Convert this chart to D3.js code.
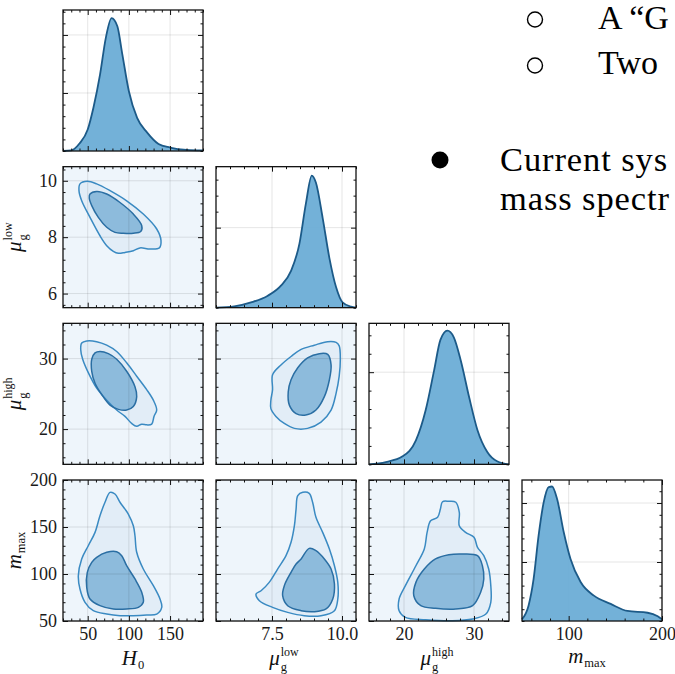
<!DOCTYPE html>
<html><head><meta charset="utf-8">
<script src="https://cdn.jsdelivr.net/npm/d3@7"></script>
<style>body{margin:0;background:#fff;} svg{display:block;}</style>
</head><body><svg id="c" width="675" height="674"></svg>
<script>
// ---------------- data ----------------
const H0Range = [20, 190];
const muLowRange = [5.5, 10.5];
const muHighRange = [15, 35];
const mMaxRange = [50, 200];

const H0Ticks = [50, 100, 150];
const muLowXTicks = [7.5, 10.0];
const muLowYTicks = [6, 8, 10];
const muHighTicks = [20, 30];
const mMaxXTicks = [100, 200];
const mMaxYTicks = [50, 100, 150, 200];

// 1D marginal densities
const H0Grid = [20,30,40,50,57,65,72,79,86,92,100,110,122,136,150,170,190];
const H0Density = [0,0.0001,0.0013,0.0037,0.0075,0.0132,0.0195,0.0229,0.0215,0.0167,0.0103,0.0057,0.0032,0.0012,0.0006,0.0002,0.0001];
const muLowGrid = [5.5,6.15,6.75,7.35,7.82,8.18,8.48,8.71,8.92,9.07,9.31,9.55,9.79,10.02,10.32,10.5];
const muLowDensity = [0,0.008,0.033,0.075,0.138,0.23,0.40,0.65,0.825,0.78,0.56,0.31,0.127,0.033,0.006,0];
const muHighGrid = [15,17.4,19.8,21.7,23.1,24.3,25.2,26.2,27.1,28.1,29.3,30.5,31.9,33.3,35];
const muHighDensity = [0,0.0025,0.0087,0.026,0.059,0.102,0.135,0.145,0.138,0.113,0.073,0.037,0.0134,0.0033,0];
const mMaxGrid = [50,57,62.4,67.8,73.2,78.6,82.2,87.6,94.8,102,112.8,127,145,163,184.6,195.4,200];
const mMaxDensity = [0.0003,0.0026,0.0071,0.0145,0.0201,0.0227,0.0228,0.0207,0.015,0.0105,0.0066,0.0043,0.0029,0.0017,0.0014,0.0008,0.0003];

const densityMax = [0.0243, 0.881, 0.153, 0.0239];
const densityTicks = [[0.01, 0.02], [0.5], [0.1], [0.01, 0.02]];
const densityMinorStep = [0.002, 0.1, 0.02, 0.002];

// 2D credible contours [x, y]
const H0_muLow_outer = [[40.6,9.89],[49.5,9.98],[60.9,9.89],[77.1,9.65],[97.3,9.29],[117.5,8.82],[133.8,8.29],[139,7.88],[137,7.62],[125.6,7.58],[113.5,7.62],[105.4,7.52],[95.3,7.46],[87.2,7.43],[81.1,7.50],[73.1,7.70],[64.9,8.05],[52.8,8.70],[42.7,9.29],[39.4,9.65]];
const H0_muLow_inner = [[52.8,9.53],[60.9,9.62],[73.1,9.53],[89.2,9.23],[105.4,8.82],[115.6,8.41],[114.4,8.20],[105.4,8.14],[93.2,8.14],[83.1,8.17],[73.1,8.35],[62.9,8.70],[54.9,9.12],[51.9,9.39]];
const H0_muHigh_outer = [[42.7,32.2],[48.8,32.5],[60.9,32.4],[73.1,31.9],[85.2,31.0],[97.3,29.4],[109.5,27.5],[121.6,25.6],[129.7,24.1],[133.8,22.7],[130.5,21.8],[127.7,20.7],[121.6,20.6],[115.6,20.7],[109.5,20.4],[103.4,20.8],[95.3,21.8],[85.2,22.7],[73.1,24.1],[60.9,25.8],[50.7,28.0],[43.9,29.9],[41.5,31.3]];
const H0_muHigh_inner = [[58.9,30.8],[64.9,31.0],[75.1,30.7],[85.2,29.9],[97.3,28.2],[107.4,26.0],[109.5,24.6],[105.4,23.2],[97.3,22.7],[87.2,22.8],[77.1,23.4],[67,24.9],[58.9,26.5],[54.9,28.2],[54.9,29.9]];
const muLow_muHigh_outer = [[7.52,27.7],[7.82,29.1],[8.18,30.3],[8.54,31.3],[9.01,31.9],[9.49,32.4],[9.79,32.3],[9.90,31.8],[9.94,29.9],[9.90,27.5],[9.79,25.1],[9.61,22.7],[9.25,21.0],[8.77,20.1],[8.30,20.1],[7.94,20.8],[7.64,21.8],[7.46,22.9],[7.46,24.1],[7.52,25.6]];
const muLow_muHigh_inner = [[8.18,27.0],[8.42,28.7],[8.77,30.1],[9.19,30.7],[9.49,30.6],[9.61,29.1],[9.55,27.0],[9.37,24.6],[9.07,22.7],[8.71,22.0],[8.36,22.2],[8.12,23.4],[8.08,25.3]];
const H0_mMax_outer = [[77.1,186.9],[83.1,185.1],[89.2,176.3],[95.3,169.1],[99.3,163.8],[105.4,151.4],[107.4,140.7],[109.5,123.1],[117.5,105.3],[129.7,87.6],[137.8,73.4],[139.9,64.5],[133.8,57.4],[121.6,56.4],[105.4,55.7],[89.2,55.7],[73.1,57.4],[56.8,61.0],[46.7,69.9],[40.6,84.0],[38.6,98.2],[42.7,116.0],[50.7,130.1],[58.9,144.3],[64.9,162.0],[71,176.3]];
const H0_mMax_inner = [[60.9,117.8],[73.1,123.1],[85.2,123.7],[91.3,119.5],[97.3,108.8],[107.4,94.7],[115.6,80.5],[117.5,69.9],[111.5,64.5],[97.3,62.8],[81.1,62.8],[64.9,66.3],[52.8,73.4],[48.8,85.8],[49.5,101.8],[54.9,112.4]];
const muLow_mMax_outer = [[8.42,183.3],[8.60,186.9],[8.83,185.8],[8.95,176.3],[9.07,160.3],[9.31,144.3],[9.55,126.6],[9.73,108.8],[9.85,91.1],[9.85,73.4],[9.73,61.0],[9.25,55.7],[8.65,55.7],[8.06,59.2],[7.52,64.5],[7.05,71.6],[6.93,78.7],[7.11,82.2],[7.40,91.1],[7.70,105.3],[8.0,119.5],[8.18,133.7],[8.30,151.4],[8.36,169.1]];
const muLow_mMax_inner = [[8.54,116.0],[8.83,127.3],[9.07,124.8],[9.37,116.0],[9.61,105.3],[9.73,89.4],[9.67,73.4],[9.43,62.8],[9.01,59.9],[8.54,61.0],[8.06,66.3],[7.88,76.9],[7.94,87.6],[8.18,101.8],[8.36,110.6]];
const muHigh_mMax_outer = [[25.5,176.9],[26.4,177.3],[27.4,176.3],[27.9,165.6],[27.9,151.4],[28.8,144.3],[30.0,139.0],[30.5,128.4],[31.4,119.5],[32.1,105.3],[32.4,87.6],[32.4,69.9],[31.7,57.4],[29.8,52.1],[26.9,50.3],[23.1,51.4],[20.2,53.9],[19.3,61.0],[19.3,73.4],[20.2,87.6],[21.7,108.8],[22.9,126.6],[23.3,144.3],[23.8,156.7],[24.8,160.3],[25.2,169.1]];
const muHigh_mMax_inner = [[22.9,105.3],[24.5,116.0],[26.4,120.5],[28.3,121.3],[30.5,119.5],[31.2,108.8],[31.4,94.7],[30.95,80.5],[29.8,66.3],[27.4,62.8],[24.5,63.5],[22.4,66.3],[21.4,76.9],[21.7,91.1]];

// slide text
const subBullets = ["A \u201cG", "Two"];
const mainBullet = ["Current sys", "mass spectr"];

// ---------------- layout ----------------
const svg = d3.select("#c");
const L = 63, T = 10, W = 140, H = 141, DX = 153, DY = 156.67;
const ranges = [H0Range, muLowRange, muHighRange, mMaxRange];
const xMajor = [H0Ticks, muLowXTicks, muHighTicks, mMaxXTicks];
const xMinorStep = [10, 0.5, 2, 20];
const yMajor = [null, muLowYTicks, muHighTicks, mMaxYTicks];
const yMinorStep = [null, 0.4, 2, 10];
const grids = [H0Grid, muLowGrid, muHighGrid, mMaxGrid];
const dens = [H0Density, muLowDensity, muHighDensity, mMaxDensity];
const xFmt = [d3.format("d"), d3.format(".1f"), d3.format("d"), d3.format("d")];
const contours = {
  "1-0": [H0_muLow_outer, H0_muLow_inner],
  "2-0": [H0_muHigh_outer, H0_muHigh_inner],
  "2-1": [muLow_muHigh_outer, muLow_muHigh_inner],
  "3-0": [H0_mMax_outer, H0_mMax_inner],
  "3-1": [muLow_mMax_outer, muLow_mMax_inner],
  "3-2": [muHigh_mMax_outer, muHigh_mMax_inner]
};

const xs = ranges.map((r, j) => d3.scaleLinear().domain(r).range([L + j*DX, L + j*DX + W]));
const ys = ranges.map((r, i) => d3.scaleLinear().domain(r).range([T + i*DY + H, T + i*DY]));
const ds = densityMax.map((m, i) => d3.scaleLinear().domain([0, m]).range([T + i*DY + H, T + i*DY]));

function minors(dom, step, majors) {
  const out = [];
  const s = Math.ceil(dom[0]/step - 1e-9);
  for (let k = s; k*step <= dom[1] + 1e-9; k++) {
    const v = +(k*step).toFixed(6);
    if (!majors.some(m => Math.abs(m - v) < 1e-9)) out.push(v);
  }
  return out;
}

const GRID = "rgba(0,0,0,0.10)";
const FONT = "'Liberation Serif', 'Times New Roman', serif";

function ticks(g, xS, yS, xMaj, xMinS, yMaj, yMinS, labelBottom, labelLeft, fmtB) {
  const x0 = xS.range()[0], x1 = xS.range()[1];
  const y0 = yS.range()[0], y1 = yS.range()[1];
  const xMin = minors(xS.domain(), xMinS, xMaj);
  const yMin = minors(yS.domain(), yMinS, yMaj);
  const style = a => {
    a.select(".domain").remove();
    a.attr("color", "#111").attr("font-family", FONT).attr("font-size", 18);
    a.selectAll("text").attr("font-family", FONT).attr("font-size", 18).attr("fill", "#1a1a1a");
  };
  g.append("g").attr("transform", `translate(0,${y0})`)
    .call(d3.axisBottom(xS).tickValues(xMaj).tickSizeInner(-5).tickSizeOuter(0).tickPadding(6)
      .tickFormat(labelBottom ? fmtB : () => "")).call(style);
  g.append("g").attr("transform", `translate(0,${y0})`)
    .call(d3.axisBottom(xS).tickValues(xMin).tickSizeInner(-2.5).tickSizeOuter(0).tickFormat(() => "")).call(style);
  g.append("g").attr("transform", `translate(0,${y1})`)
    .call(d3.axisTop(xS).tickValues(xMaj).tickSizeInner(-5).tickSizeOuter(0).tickFormat(() => "")).call(style);
  g.append("g").attr("transform", `translate(0,${y1})`)
    .call(d3.axisTop(xS).tickValues(xMin).tickSizeInner(-2.5).tickSizeOuter(0).tickFormat(() => "")).call(style);
  g.append("g").attr("transform", `translate(${x0},0)`)
    .call(d3.axisLeft(yS).tickValues(yMaj).tickSizeInner(-5).tickSizeOuter(0).tickPadding(6)
      .tickFormat(labelLeft ? d3.format("d") : () => "")).call(style);
  g.append("g").attr("transform", `translate(${x0},0)`)
    .call(d3.axisLeft(yS).tickValues(yMin).tickSizeInner(-2.5).tickSizeOuter(0).tickFormat(() => "")).call(style);
  g.append("g").attr("transform", `translate(${x1},0)`)
    .call(d3.axisRight(yS).tickValues(yMaj).tickSizeInner(-5).tickSizeOuter(0).tickFormat(() => "")).call(style);
  g.append("g").attr("transform", `translate(${x1},0)`)
    .call(d3.axisRight(yS).tickValues(yMin).tickSizeInner(-2.5).tickSizeOuter(0).tickFormat(() => "")).call(style);
  g.selectAll(".tick line").attr("stroke-width", 1);
  g.selectAll(".tick text").filter(function() { return this.textContent === ""; }).remove();
}

function gridLines(g, xS, yS, xMaj, yMaj) {
  const [x0, x1] = xS.range(), [y0, y1] = yS.range();
  g.selectAll(null).data(xMaj).join("line")
    .attr("x1", d => xS(d)).attr("x2", d => xS(d)).attr("y1", y0).attr("y2", y1)
    .attr("stroke", GRID).attr("stroke-width", 1);
  g.selectAll(null).data(yMaj).join("line")
    .attr("x1", x0).attr("x2", x1).attr("y1", d => yS(d)).attr("y2", d => yS(d))
    .attr("stroke", GRID).attr("stroke-width", 1);
}

const closed = d3.line().curve(d3.curveCatmullRomClosed.alpha(0.5));

for (let i = 0; i < 4; i++) {
  for (let j = 0; j <= i; j++) {
    const g = svg.append("g");
    const xS = xs[j];
    const [px0, px1] = xS.range();
    if (i === j) {
      const yS = ds[i];
      const [py0, py1] = yS.range();
      g.append("rect").attr("x", px0).attr("y", py1).attr("width", px1-px0).attr("height", py0-py1).attr("fill", "#fff");
      gridLines(g, xS, yS, xMajor[j], densityTicks[i]);
      const pts = grids[i].map((v, k) => [v, dens[i][k]]);
      g.append("path").datum(pts)
        .attr("d", d3.area().x(d => xS(d[0])).y0(py0).y1(d => yS(d[1])).curve(d3.curveMonotoneX))
        .attr("fill", "#6badd6").attr("fill-opacity", 0.95);
      g.append("path").datum(pts)
        .attr("d", d3.line().x(d => xS(d[0])).y(d => yS(d[1])).curve(d3.curveMonotoneX))
        .attr("fill", "none").attr("stroke", "#1c5a88").attr("stroke-width", 1.8);
      ticks(g, xS, yS, xMajor[j], xMinorStep[j], densityTicks[i], densityMinorStep[i],
            i === 3, false, xFmt[j]);
      g.append("rect").attr("x", px0).attr("y", py1).attr("width", px1-px0).attr("height", py0-py1)
        .attr("fill", "none").attr("stroke", "#111").attr("stroke-width", 1.3);
    } else {
      const yS = ys[i];
      const [py0, py1] = yS.range();
      g.append("rect").attr("x", px0).attr("y", py1).attr("width", px1-px0).attr("height", py0-py1).attr("fill", "#eef5fb");
      const [outer, inner] = contours[`${i}-${j}`];
      const toPx = arr => arr.map(p => [xS(p[0]), yS(p[1])]);
      g.append("path").attr("d", closed(toPx(outer))).attr("fill", "#e2edf7");
      g.append("path").attr("d", closed(toPx(inner))).attr("fill", "#8dbbdc");
      gridLines(g, xS, yS, xMajor[j], yMajor[i]);
      g.append("path").attr("d", closed(toPx(outer))).attr("fill", "none").attr("stroke", "#3a8ac2").attr("stroke-width", 1.5);
      g.append("path").attr("d", closed(toPx(inner))).attr("fill", "none").attr("stroke", "#2a6ea3").attr("stroke-width", 1.5);
      ticks(g, xS, yS, xMajor[j], xMinorStep[j], yMajor[i], yMinorStep[i],
            i === 3, j === 0, xFmt[j]);
      g.append("rect").attr("x", px0).attr("y", py1).attr("width", px1-px0).attr("height", py0-py1)
        .attr("fill", "none").attr("stroke", "#111").attr("stroke-width", 1.3);
    }
  }
}

// ---------------- axis labels ----------------
function mathLabel(cx, cy, rotate, main, sup, sub) {
  const g = svg.append("g").attr("transform", `translate(${cx},${cy})` + (rotate ? " rotate(-90)" : ""));
  const inner = g.append("g");
  const t = inner.append("text").attr("x", 0).attr("y", 0)
    .attr("font-family", FONT).attr("font-style", "italic").attr("font-size", 21).attr("fill", "#111").text(main);
  const wm = t.node().getComputedTextLength();
  let w = wm;
  if (sup) {
    const s = inner.append("text").attr("x", wm + 1).attr("y", -9)
      .attr("font-family", FONT).attr("font-size", 12).attr("fill", "#111").text(sup);
    w = Math.max(w, wm + 1 + s.node().getComputedTextLength());
  }
  if (sub) {
    const s = inner.append("text").attr("x", wm + 1).attr("y", sup ? 6 : 4)
      .attr("font-family", FONT).attr("font-size", 12.5).attr("fill", "#111").text(sub);
    w = Math.max(w, wm + 1 + s.node().getComputedTextLength());
  }
  inner.attr("transform", `translate(${-w/2},0)`);
}
const colC = j => L + j*DX + W/2;
const rowC = i => T + i*DY + H/2;
mathLabel(colC(0), 665, false, "H", null, "0");
mathLabel(colC(1) - 2, 665, false, "\u03bc", "low", "g");
mathLabel(colC(2) - 2, 665, false, "\u03bc", "high", "g");
mathLabel(colC(3) - 5, 663, false, "m", null, "max");
mathLabel(21, rowC(1), true, "\u03bc", "low", "g");
mathLabel(21, rowC(2), true, "\u03bc", "high", "g");
mathLabel(21, rowC(3), true, "m", null, "max");

// ---------------- slide text ----------------
const sub = svg.append("g");
sub.selectAll("circle").data(subBullets).join("circle")
  .attr("cx", 535).attr("cy", (d, k) => 19.5 + k*46).attr("r", 7.5)
  .attr("fill", "none").attr("stroke", "#000").attr("stroke-width", 1.4);
sub.selectAll("text").data(subBullets).join("text")
  .attr("x", 598).attr("y", (d, k) => 28.5 + k*45.5)
  .attr("font-family", FONT).attr("font-size", 34).attr("fill", "#000").text(d => d);
const main = svg.append("g");
main.append("circle").attr("cx", 440).attr("cy", 160).attr("r", 8.5).attr("fill", "#000");
main.selectAll("text").data(mainBullet).join("text")
  .attr("x", 500).attr("y", (d, k) => 171 + k*38.5)
  .attr("font-family", FONT).attr("font-size", 34.5).attr("letter-spacing", 0.9)
  .attr("fill", "#000").text(d => d);
</script></body></html>
